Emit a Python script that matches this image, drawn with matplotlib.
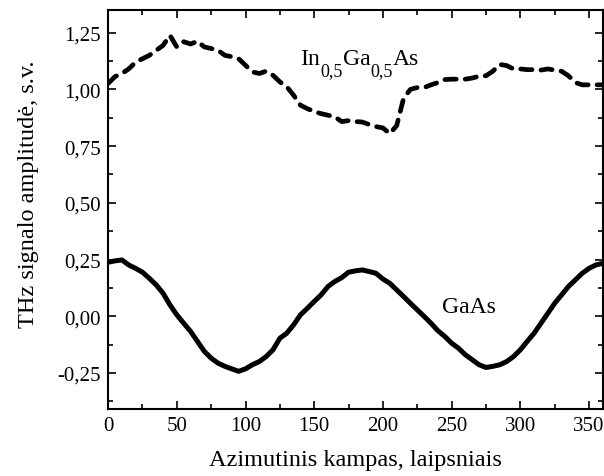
import matplotlib
matplotlib.use('Agg')
import matplotlib.pyplot as plt
from matplotlib.ticker import MultipleLocator, FuncFormatter

plt.rcParams['font.family'] = 'Liberation Serif'

# GaAs, read every 5 deg
gaas_deg = list(range(0, 365, 5))
gaas_amp = [0.238, 0.244, 0.248, 0.226, 0.211, 0.194, 0.167, 0.138, 0.101,
            0.050, 0.006, -0.031, -0.067, -0.111, -0.155, -0.185, -0.207,
            -0.221, -0.232, -0.243, -0.232, -0.214, -0.200, -0.178, -0.148,
            -0.097, -0.075, -0.038, 0.006, 0.035, 0.065, 0.094, 0.131, 0.153,
            0.170, 0.194, 0.200, 0.204, 0.197, 0.189, 0.164, 0.145, 0.116,
            0.087, 0.057, 0.028, -0.001, -0.031, -0.064, -0.089, -0.119,
            -0.141, -0.170, -0.192, -0.214, -0.226, -0.221, -0.214, -0.200,
            -0.178, -0.148, -0.111, -0.075, -0.031, 0.013, 0.057, 0.094,
            0.131, 0.160, 0.189, 0.211, 0.226, 0.233]

# In0.5Ga0.5As, read every 5 deg
ingaas_deg = list(range(0, 365, 5))
ingaas_amp = [1.026, 1.056, 1.070, 1.090, 1.120, 1.135, 1.150, 1.172, 1.194,
              1.238, 1.187, 1.210, 1.200, 1.212, 1.187, 1.180, 1.172, 1.150,
              1.144, 1.135, 1.106, 1.077, 1.070, 1.080, 1.062, 1.033, 1.012,
              0.974, 0.930, 0.915, 0.902, 0.893, 0.886, 0.879, 0.858, 0.862,
              0.858, 0.856, 0.845, 0.836, 0.830, 0.805, 0.840, 0.960, 1.000,
              1.008, 1.008, 1.020, 1.030, 1.043, 1.045, 1.045, 1.045, 1.050,
              1.058, 1.060, 1.080, 1.110, 1.105, 1.090, 1.090, 1.087, 1.087,
              1.085, 1.090, 1.085, 1.080, 1.060, 1.030, 1.020, 1.020, 1.020,
              1.020]

fig = plt.figure(figsize=(6.04, 4.77), dpi=100)
ax = fig.add_axes([0.179, 0.140, 0.819, 0.837])

ax.plot(gaas_deg, gaas_amp, color='black', lw=3.6, solid_capstyle='round',
        solid_joinstyle='round')
ax.plot(ingaas_deg, ingaas_amp, color='black', lw=3.4,
        dashes=(2.4, 1.9), dash_capstyle='round')

# In_{0,5}Ga_{0,5}As built from pieces so the subscripts stay large
pieces = [('In', 17, 0), ('0,5', 13, -7), ('Ga', 17, 7), ('0,5', 13, -7), ('As', 17, 7)]
prev = ax.text(140, 1.09, pieces[0][0], fontsize=pieces[0][1], va='bottom')
for txt, size, dy in pieces[1:]:
    prev = ax.annotate(txt, xy=(1, 0), xycoords=prev, xytext=(0, dy),
                       textcoords='offset points', fontsize=size, va='bottom')
ax.text(243, 0.044, 'GaAs', fontsize=17, ha='left', va='center')

ax.set_xlim(0, 360)
ax.set_ylim(-0.41, 1.35)
ax.xaxis.set_major_locator(MultipleLocator(50))
ax.xaxis.set_minor_locator(MultipleLocator(25))
ax.yaxis.set_major_locator(MultipleLocator(0.25))
ax.yaxis.set_minor_locator(MultipleLocator(0.125))
ax.yaxis.set_major_formatter(FuncFormatter(lambda v, p: ('%.2f' % v).replace('.', ',')))
ax.tick_params(which='both', direction='in', top=True, right=True,
               labelsize=15, width=1.2)
ax.tick_params(which='major', length=6, pad=5)
ax.tick_params(which='minor', length=3.5)
for s in ax.spines.values():
    s.set_linewidth(1.5)

ax.set_xlabel('Azimutinis kampas, laipsniais', fontsize=17.5, labelpad=10)
ax.set_ylabel('THz signalo amplitudė, s.v.', fontsize=17.5)
ax.yaxis.set_label_coords(-0.14, 0.54)

fig.savefig('out.png', dpi=100)
